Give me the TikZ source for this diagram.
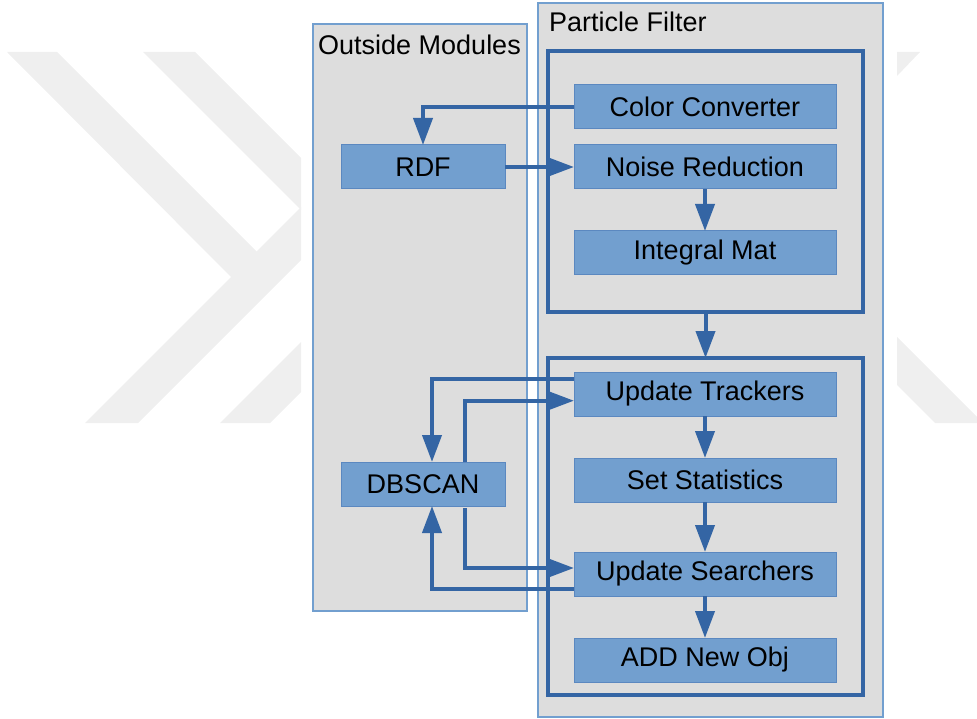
\documentclass[tikz,border=0pt]{standalone}
\usepackage{fontspec}
\setmainfont{Liberation Sans}
\usetikzlibrary{arrows.meta}
\definecolor{lineblue}{HTML}{3465A4}
\definecolor{boxblue}{HTML}{729FCF}
\definecolor{edgeblue}{HTML}{5B88C0}
\definecolor{panelgray}{HTML}{DDDDDD}
\definecolor{markgray}{HTML}{EFEFEF}
\begin{document}
\begin{tikzpicture}[x=1pt,y=-1pt,
  panel/.style={draw=boxblue, line width=1.2pt, fill=panelgray},
  stage/.style={draw=lineblue, line width=4pt, inner sep=0pt, outer sep=0pt},
  module/.style={draw=edgeblue, line width=1pt, fill=boxblue, inner sep=0pt, outer sep=0pt,
                 minimum height=44pt, font=\fontsize{27}{32}\selectfont},
  wide/.style={module, minimum width=262pt},
  narrow/.style={module, minimum width=164pt},
  flow/.style={draw=lineblue, line width=4pt, -{Triangle[length=27pt,width=19pt]}},
  title/.style={anchor=base west, inner sep=0pt, font=\fontsize{27}{32}\selectfont}
]
\useasboundingbox (0,0) rectangle (977,719);

% faint chevron mark in the page background
\begin{scope}
  \clip (0,0) rectangle (301,719) (897,0) rectangle (977,719);
  \fill[markgray] (7,52) -- (57,52) -- (283,278) -- (231,277) -- cycle;
  \fill[markgray] (85,423) -- (138,423) -- (400,161) -- (350,158) -- cycle;
  \fill[markgray] (143,52) -- (195,52) -- (400,257) -- (348,257) -- cycle;
  \fill[markgray] (220,423) -- (270,423) -- (450,243) -- (400,243) -- cycle;
  \fill[markgray] (897,52) -- (920,52) -- (897,76) -- cycle;
  \fill[markgray] (897,337) -- (977,417) -- (977,423) -- (935,423) -- (897,385) -- cycle;
\end{scope}

% swimlanes
\draw[panel] (313,24) rectangle (527,611);
\draw[panel] (538,3) rectangle (883,717);
\node[title] (outtitle) at (318,55) {Outside Modules};
\node[title] (pftitle) at (549,32) {Particle Filter};

% particle filter stages
\node[stage, minimum width=315pt, minimum height=261pt] (pf1) at (705.5,181.5) {};
\node[stage, minimum width=315pt, minimum height=337pt] (pf2) at (705.5,526.5) {};

% modules
\node[wide] (cc) at (705,107) {Color Converter};
\node[wide] (nr) at (705,167) {Noise Reduction};
\node[wide] (im) at (705,253) {Integral Mat};
\node[wide] (ut) at (705,394) {Update Trackers};
\node[wide] (ss) at (705,480) {Set Statistics};
\node[wide] (us) at (705,574) {Update Searchers};
\node[wide] (an) at (705,660) {ADD New Obj};
\node[narrow] (rdf) at (423,167) {RDF};
\node[narrow] (db) at (423,484) {DBSCAN};

% data flow
\draw[flow] (cc.west) -| (rdf.north);
\draw[flow] (rdf.east) -- (nr.west);
\draw[flow] (nr.south) -- (im.north);
\draw[flow] (pf1.south) -- (pf2.north);
\draw[flow] (ut.south) -- (ss.north);
\draw[flow] (ss.south) -- (us.north);
\draw[flow] (us.south) -- (an.north);
\draw[flow] ([yshift=15pt]ut.west) -| ([xshift=9pt]db.north);
\draw[flow] ([xshift=42pt]db.north) |- ([yshift=-6.7pt]ut.west);
\draw[flow] ([xshift=42pt,yshift=-2pt]db.south) |- ([yshift=6pt]us.west);
\draw[flow] ([yshift=-15pt]us.west) -| ([xshift=9pt]db.south);
\end{tikzpicture}
\end{document}
